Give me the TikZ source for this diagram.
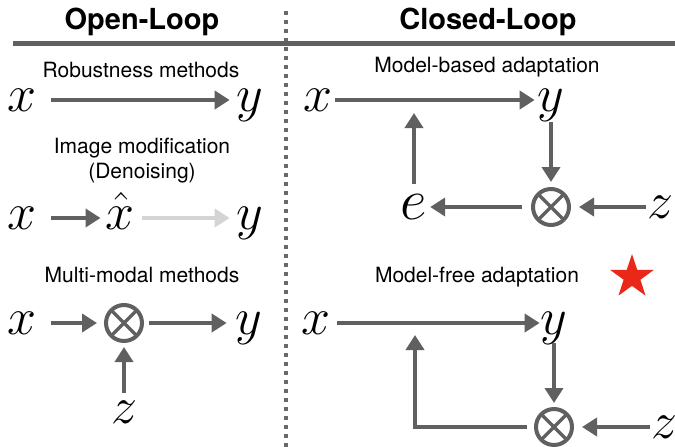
\RequirePackage{fix-cm}
\documentclass[tikz,border=0pt]{standalone}
\usepackage{fontspec}
\setsansfont{TeX Gyre Heros}
\definecolor{ink}{RGB}{96,96,96}
\definecolor{faint}{RGB}{212,212,212}
\definecolor{divider}{RGB}{105,105,105}
\definecolor{starred}{RGB}{234,40,26}
\usetikzlibrary{arrows.meta,shapes.geometric}
\tikzset{
  mth/.style={font=\fontsize{52}{52}\selectfont,inner sep=0pt,outer sep=0pt,
              text height=22pt,text depth=0pt},
  bigmth/.style={mth,font=\fontsize{58}{58}\selectfont,text height=25pt},
  head/.style={font=\sffamily\bfseries\fontsize{29}{29}\selectfont},
  lbl/.style={font=\sffamily\fontsize{21}{25}\selectfont,align=center},
  arr/.style={-{Triangle[length=15pt,width=18pt]},line width=4pt,draw=ink},
  mix/.style={circle,draw=ink,line width=4pt,minimum size=36pt,inner sep=0pt,
              path picture={\draw[line width=3.5pt,ink]
                (path picture bounding box.north west) -- (path picture bounding box.south east)
                (path picture bounding box.north east) -- (path picture bounding box.south west);}},
}

\begin{document}
\begin{tikzpicture}[x=1pt,y=-1pt]
    \useasboundingbox (0,0) rectangle (675,447);
    % column divider and rule
    \draw[divider,line width=4pt,dash pattern=on 4pt off 5pt] (286,11) -- (286,447);
    \draw[ink,line width=5pt] (13,43) -- (675,43);
    \node[head] (open) at (142,22) {Open-Loop};
    \node[head] (closed) at (488,22) {Closed-Loop};

    % open-loop
    \node[lbl] (robust) at (141,70) {Robustness methods};
    \node[mth] (x1) at (22,100) {$x$};
    \node[mth] (y1) at (250,100) {$y$};
    \draw[arr,shorten <=15pt,shorten >=7pt] (x1) -- (y1);

    \node[lbl] (denoise) at (142,161) {Image modification\\(Denoising)};
    \node[mth] (x2) at (22,218) {$x$};
    \node[mth] (xh) at (120,218) {$\hat{x}$};
    \node[mth] (y2) at (250,218) {$y$};
    \draw[arr,shorten <=15pt,shorten >=5pt] (x2) -- (xh);
    \draw[arr,draw=faint,shorten <=8pt,shorten >=7pt] (xh) -- (y2);

    \node[lbl] (multi) at (142,275) {Multi-modal methods};
    \node[mth] (x3) at (22,323) {$x$};
    \node[mix] (ot1) at (124,323) {};
    \node[mth] (y3) at (249,323) {$y$};
    \node[mth] (z1) at (124,412) {$z$};
    \draw[arr,shorten <=15pt,shorten >=7pt] (x3) -- (ot1);
    \draw[arr,shorten <=5pt,shorten >=9pt] (ot1) -- (y3);
    \draw[arr,shorten <=8pt,shorten >=4pt] (z1) -- (ot1);

    % closed-loop
    \node[lbl] (based) at (487,67) {Model-based adaptation};
    \node[mth] (x4) at (318,100) {$x$};
    \node[mth] (y4) at (551,100) {$y$};
    \node[mix] (ot2) at (551,207) {};
    \node[mth] (z2) at (660,207) {$z$};
    \node[bigmth] (e1) at (414,207) {$e$};
    \draw[arr,shorten <=3pt,shorten >=3pt] (x4) -- (y4);
    \draw[arr,shorten <=11pt,shorten >=5pt] (y4) -- (ot2);
    \draw[arr,shorten <=1pt,shorten >=8pt] (z2) -- (ot2);
    \draw[arr,shorten <=9pt,shorten >=3pt] (ot2) -- (e1);
    \draw[arr,shorten <=11pt,shorten >=13pt] (e1) -- (e1 |- x4);

    \node[lbl] (free) at (477,277) {Model-free adaptation};
    \node[star,star points=5,star point ratio=2.6,fill=starred,minimum size=46pt,inner sep=0pt]
      (best) at (632,277) {};
    \node[mth] (x5) at (316,323) {$x$};
    \node[mth] (y5) at (554,323) {$y$};
    \node[mix] (ot3) at (554,427) {};
    \node[mth] (z3) at (664,427) {$z$};
    \coordinate (fb) at (415,427);
    \draw[arr,shorten <=7pt,shorten >=1pt] (x5) -- (y5);
    \draw[arr,shorten <=9pt,shorten >=4pt] (y5) -- (ot3);
    \draw[arr,shorten <=1pt,shorten >=8pt] (z3) -- (ot3);
    \draw[arr,shorten <=7pt,shorten >=12pt] (ot3.west) -- (fb) -- (fb |- x5);
  \end{tikzpicture}
\end{document}
